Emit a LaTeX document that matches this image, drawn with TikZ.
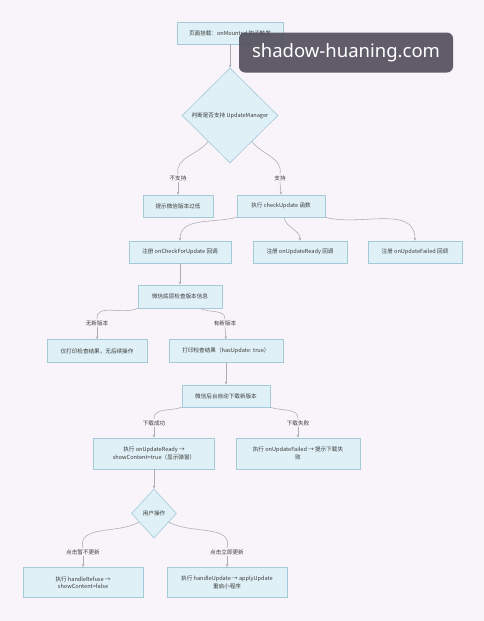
\documentclass[tikz,border=0pt]{standalone}
\usepackage{fontspec}
\setmainfont{Noto Sans CJK SC}
\newfontfamily\wmfont{Noto Sans}
\usetikzlibrary{shapes.geometric,arrows.meta}
\definecolor{bg}{HTML}{F8F4F9}
\definecolor{boxfill}{HTML}{DFF1F7}
\definecolor{boxline}{HTML}{A4CAD8}
\definecolor{edgecol}{HTML}{ABADB3}
\definecolor{txt}{HTML}{3A3A3A}
\definecolor{wmcol}{HTML}{55515F}
\tikzset{
  tfont/.style={font=\fontsize{5.6}{7.6}\selectfont},
  box/.style={draw=boxline, fill=boxfill, line width=0.6pt, minimum height=22pt,
    inner sep=2pt, align=center, text=txt, tfont},
  dia/.style={diamond, draw=boxline, fill=boxfill, line width=0.6pt, inner sep=0pt,
    align=center, text=txt, tfont},
  lbl/.style={fill=bg, inner sep=1pt, text=txt, tfont},
  ln/.style={draw=edgecol, line width=0.55pt},
  arr/.style={draw=edgecol, line width=0.55pt, -{Stealth[length=3pt,width=2.6pt]}},
  wmbox/.style={fill=wmcol, fill opacity=0.93, text opacity=1, rounded corners=6pt,
    minimum width=214pt, minimum height=40pt, text=white,
    font=\wmfont\fontsize{18.5}{20}\selectfont}
}
\begin{document}
\begin{tikzpicture}[x=1pt,y=-1pt]
\fill[bg] (0,0) rectangle (484,621);
\useasboundingbox (0,0) rectangle (484,621);

% nodes
\node[box, minimum width=106pt] (n1) at (230,33) {页面挂载：onMounted 钩子触发};
\node[dia, minimum width=96pt, minimum height=95pt] (d1) at (230,115.5) {判断是否支持 UpdateManager};
\node[lbl] (l1) at (178,178) {不支持};
\node[lbl] (l2) at (280,178) {支持};
\node[box, minimum width=70pt] (A) at (178,206) {提示微信版本过低};
\node[box, minimum width=88pt] (B) at (281,206) {执行 checkUpdate 函数};
\node[box, minimum width=102pt] (R1) at (180,252) {注册 onCheckForUpdate 回调};
\node[box, minimum width=94pt] (R2) at (300,252) {注册 onUpdateReady 回调};
\node[box, minimum width=94pt] (R3) at (415,252) {注册 onUpdateFailed 回调};
\node[box, minimum width=84pt, minimum height=23pt] (C) at (180,296.5) {微信底层检查版本信息};
\node[lbl] (l3) at (97,323) {无新版本};
\node[lbl] (l4) at (225,323) {有新版本};
\node[box, minimum width=100pt, minimum height=23pt] (D1) at (97,351) {仅打印检查结果，无后续操作};
\node[box, minimum width=114pt, minimum height=23pt] (D2) at (226,351) {打印检查结果（hasUpdate: true）};
\node[box, minimum width=88pt] (E) at (226,396) {微信后台自动下载新版本};
\node[lbl] (l5) at (154,423) {下载成功};
\node[lbl] (l6) at (298,423) {下载失败};
\node[box, minimum width=121pt, minimum height=31pt] (F1) at (154,453.5) {执行 onUpdateReady →\\showContent=true（显示弹窗）};
\node[box, minimum width=124pt, minimum height=31pt] (F2) at (298,453.5) {执行 onUpdateFailed → 提示下载失\\败};
\node[dia, minimum width=45pt, minimum height=49pt] (d2) at (154,513.5) {用户操作};
\node[lbl] (l7) at (83,552) {点击暂不更新};
\node[lbl] (l8) at (227,552) {点击立即更新};
\node[box, minimum width=120pt, minimum height=30pt] (G1) at (83,582.5) {执行 handleRefuse →\\showContent=false};
\node[box, minimum width=120pt, minimum height=30pt] (G2) at (227,582.5) {执行 handleUpdate → applyUpdate\\重启小程序};

% edges
\draw[arr] (n1.south) -- (d1.north);
\draw[ln] (d1.-130) to[out=-128,in=100] (l1.north);
\draw[arr] (l1.south) -- (A.north);
\draw[ln] (d1.-50) to[out=-52,in=80] (l2.north);
\draw[arr] (l2.south) -- (B.north);
\draw[arr] (B.south west) to[out=-165,in=90] (R1.north);
\draw[arr] (B.-75) to[out=-80,in=90] (R2.north);
\draw[arr] (B.south east) to[out=-15,in=90] (R3.north);
\draw[arr] (R1.south) -- (C.north);
\draw[ln] (C.south west) to[out=-155,in=95] (l3.north);
\draw[arr] (l3.south) -- (D1.north);
\draw[ln] (C.-30) to[out=-30,in=90] (l4.north);
\draw[arr] (l4.south) -- (D2.north);
\draw[arr] (D2.south) -- (E.north);
\draw[ln] (E.south west) to[out=-160,in=95] (l5.north);
\draw[arr] (l5.south) -- (F1.north);
\draw[ln] (E.south east) to[out=-20,in=85] (l6.north);
\draw[arr] (l6.south) -- (F2.north);
\draw[arr] (F1.south) -- (d2.north);
\draw[ln] (d2.-150) to[out=-150,in=105] (l7.north);
\draw[arr] (l7.south) -- (G1.north);
\draw[ln] (d2.-30) to[out=-30,in=75] (l8.north);
\draw[arr] (l8.south) -- (G2.north);

% watermark
\node[wmbox] (wm) at (346,52.5) {shadow-huaning.com};
\end{tikzpicture}
\end{document}
